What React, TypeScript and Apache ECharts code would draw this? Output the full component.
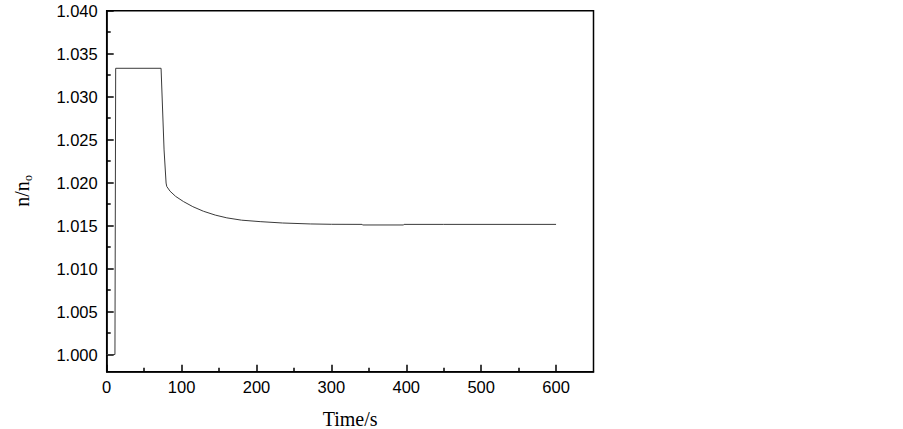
import React, { useEffect, useRef } from "react";
import * as echarts from "echarts";

const times = [0, 11, 12, 72.6, 76.6, 79.3, 80.2, 84.6, 92, 102.4, 115, 129.1, 145, 160.4, 180, 204.9, 235, 271.8, 300, 341, 342, 396, 397, 450, 600];
const values = [1.0, 1.0, 1.0333, 1.0333, 1.0238, 1.01995, 1.01955, 1.019, 1.0184, 1.0178, 1.0172, 1.01667, 1.01622, 1.0159, 1.01563, 1.01546, 1.0153, 1.01519, 1.01515, 1.01514, 1.01507, 1.01507, 1.01514, 1.01514, 1.01514];

const xMajor = [0, 100, 200, 300, 400, 500, 600];
const xMinor = [50, 150, 250, 350, 450, 550];
const yMajor = [1.0, 1.005, 1.01, 1.015, 1.02, 1.025, 1.03, 1.035, 1.04];
const yMinor = [1.0025, 1.0075, 1.0125, 1.0175, 1.0225, 1.0275, 1.0325, 1.0375];

const GL = 106.7;
const GT = 10.7;
const GW = 486.8;
const GH = 361;

export default function App() {
  const ref = useRef<HTMLDivElement>(null);
  useEffect(() => {
    if (!ref.current) return;
    const chart = echarts.init(ref.current, undefined, { renderer: "svg" });
    const labelFont = { fontSize: 16.5, color: "#000", fontFamily: "Liberation Sans, Arial, sans-serif" };
    const axisLine = { show: true, lineStyle: { color: "#000", width: 1.5 } };
    chart.setOption({
      animation: false,
      backgroundColor: "#fff",
      grid: {
        left: GL, top: GT, width: GW, height: GH,
        show: true, borderColor: "#000", borderWidth: 1.5, backgroundColor: "transparent",
        containLabel: false, outerBoundsMode: "none",
      },
      xAxis: [
        {
          type: "value", min: 0, max: 650, position: "bottom",
          axisLine,
          axisTick: { show: true, inside: true, length: 7, lineStyle: { color: "#000", width: 1.5 }, customValues: xMajor },
          axisLabel: { ...labelFont, margin: 7, customValues: xMajor },
          splitLine: { show: false },
          name: "Time/s", nameLocation: "middle", nameGap: 37,
          nameTextStyle: { fontSize: 20, color: "#000", fontFamily: "Liberation Serif, Times New Roman, serif" },
        },
        {
          type: "value", min: 0, max: 650, position: "bottom",
          axisLine: { show: false },
          axisTick: { show: true, inside: true, length: 4, lineStyle: { color: "#000", width: 1.5 }, customValues: xMinor },
          axisLabel: { show: false },
          splitLine: { show: false },
        },
      ],
      yAxis: [
        {
          type: "value", min: 0.998, max: 1.04, position: "left",
          axisLine,
          axisTick: { show: true, inside: true, length: 7, lineStyle: { color: "#000", width: 1.5 }, customValues: yMajor },
          axisLabel: { ...labelFont, margin: 9, customValues: yMajor, formatter: (v: number) => v.toFixed(3) },
          splitLine: { show: false },
        },
        {
          type: "value", min: 0.998, max: 1.04, position: "left",
          axisLine: { show: false },
          axisTick: { show: true, inside: true, length: 4, lineStyle: { color: "#000", width: 1.5 }, customValues: yMinor },
          axisLabel: { show: false },
          splitLine: { show: false },
        },
      ],
      graphic: [
        {
          type: "group",
          x: 28.3,
          y: 206.7,
          rotation: Math.PI / 2,
          children: [
            {
              type: "text", x: 0, y: -6.5,
              style: { text: "n/n", fontSize: 20, fontFamily: "Liberation Serif, Times New Roman, serif", fill: "#000", align: "left", verticalAlign: "middle" },
            },
            {
              type: "text", x: 25.6, y: -0.6,
              style: { text: "o", fontSize: 12, fontFamily: "Liberation Serif, Times New Roman, serif", fill: "#000", align: "left", verticalAlign: "middle" },
            },
          ],
        },
      ],
      series: [
        {
          type: "line",
          xAxisIndex: 0,
          yAxisIndex: 0,
          data: times.map((t, i) => [t, values[i]]),
          symbol: "none",
          lineStyle: { color: "#3a3a3a", width: 1 },
          silent: true,
        },
      ],
    });
    return () => chart.dispose();
  }, []);
  return <div ref={ref} style={{ position: "fixed", left: 0, top: 0, width: 903, height: 429, background: "#fff" }} />;
}
